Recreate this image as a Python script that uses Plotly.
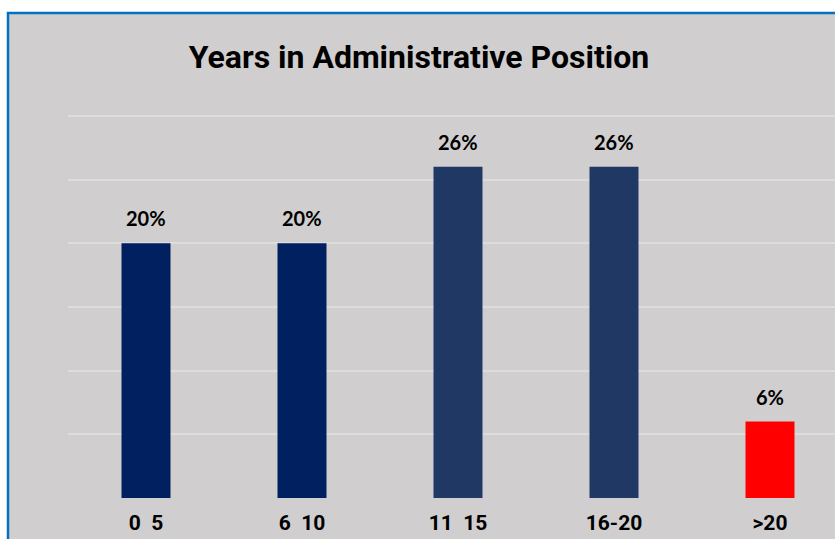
import plotly.graph_objects as go

# Share of administrators by years spent in the position
categories = ["0  5", "6  10", "11  15", "16-20", ">20"]
values = [20, 20, 26, 26, 6]
bar_colors = ["#002060", "#002060", "#203864", "#203864", "#FF0000"]
y_ticks = [0, 5, 10, 15, 20, 25, 30]

W, H = 835, 539
ML, MR, MT, MB = 68, 0, 112, 41
PW, PH = W - ML - MR, H - MT - MB


def px_to_paper_x(px):
    return (px - ML) / PW


def px_to_paper_y(py):
    return (H - MB - py) / PH


xs = list(range(len(categories)))
# 156 px per category; keep the visible span starting half a step left of the first bar
x_span = PW / 156.0

NARROW = "Roboto, Liberation Sans, sans-serif"

fig = go.Figure()
fig.add_trace(go.Bar(
    x=xs,
    y=values,
    width=[0.314] * len(values),
    marker=dict(color=bar_colors, line=dict(width=0)),
    hoverinfo="skip",
))

for x, v in zip(xs, values):
    fig.add_annotation(
        x=x, y=v, text=f"<b>{v}%</b>", showarrow=False,
        yanchor="bottom", yshift=11,
        font=dict(family="Lato, Open Sans, sans-serif", size=20, color="#000000"),
    )

# grey chart area with blue frame on the left and top
fig.add_shape(
    type="rect", xref="paper", yref="paper", layer="below",
    x0=px_to_paper_x(8), x1=px_to_paper_x(W + 20),
    y0=px_to_paper_y(H + 20), y1=px_to_paper_y(13),
    fillcolor="#D0CECE", line=dict(color="#0070C0", width=2.5),
)

fig.update_layout(
    width=W, height=H,
    margin=dict(l=ML, r=MR, t=MT, b=MB, autoexpand=False),
    paper_bgcolor="#FFFFFF",
    plot_bgcolor="rgba(0,0,0,0)",
    showlegend=False,
    title=dict(
        text="<b>Years in Administrative Position</b>",
        x=419 / W, xanchor="center",
        y=1 - 57 / H, yanchor="middle",
        font=dict(family=NARROW, size=32, color="#000000"),
    ),
    xaxis=dict(
        range=[-0.5, -0.5 + x_span],
        tickmode="array", tickvals=xs,
        ticktext=[f"<b>{c}</b>" for c in categories],
        tickfont=dict(family=NARROW, size=21, color="#000000"),
        ticklabelstandoff=10,
        automargin=False,
        showgrid=False, zeroline=False,
        showline=False, ticks="",
    ),
    yaxis=dict(
        range=[0, 30.3],
        tickmode="array", tickvals=y_ticks,
        showticklabels=False,
        automargin=False,
        showgrid=True, gridcolor="#DEDCDC", gridwidth=2,
        zeroline=False, showline=False, ticks="",
    ),
)

fig.write_html("out.html")
